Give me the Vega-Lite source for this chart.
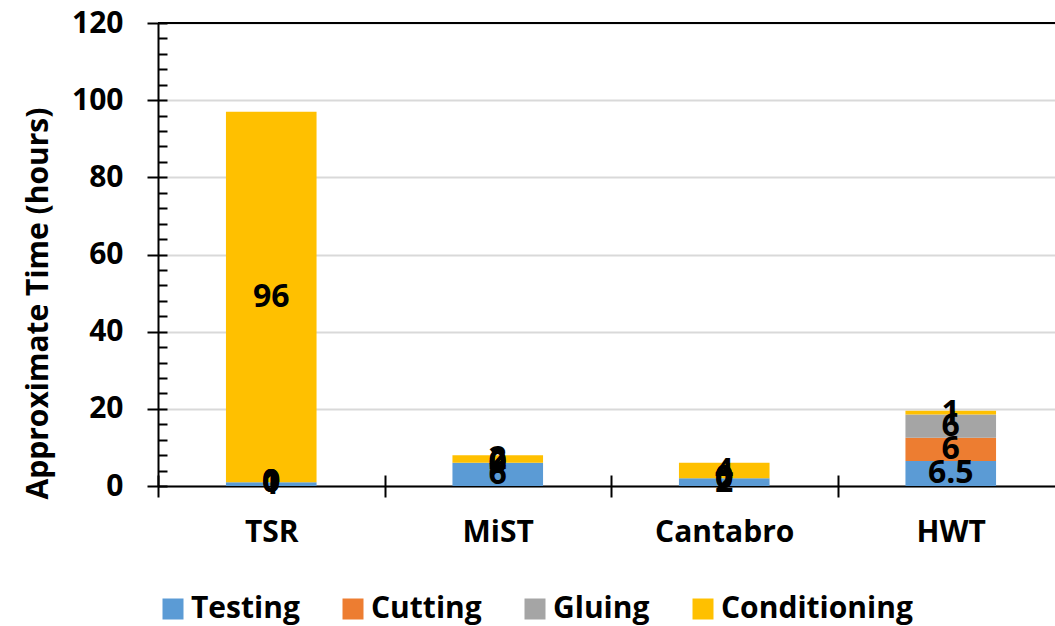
{
  "$schema": "https://vega.github.io/schema/vega-lite/v6.json",
  "width": 906,
  "height": 463,
  "autosize": {"type": "none"},
  "padding": {"left": 158, "top": 23, "right": 0, "bottom": 140},
  "config": {"view": {"stroke": null}, "font": "Open Sans"},
  "data": {
    "values": [
      {"Test": "TSR", "Task": "Testing", "k": 1, "Hours": 1},
      {"Test": "TSR", "Task": "Cutting", "k": 2, "Hours": 0},
      {"Test": "TSR", "Task": "Gluing", "k": 3, "Hours": 0},
      {"Test": "TSR", "Task": "Conditioning", "k": 4, "Hours": 96},
      {"Test": "MiST", "Task": "Testing", "k": 1, "Hours": 6},
      {"Test": "MiST", "Task": "Cutting", "k": 2, "Hours": 0},
      {"Test": "MiST", "Task": "Gluing", "k": 3, "Hours": 0},
      {"Test": "MiST", "Task": "Conditioning", "k": 4, "Hours": 2},
      {"Test": "Cantabro", "Task": "Testing", "k": 1, "Hours": 2},
      {"Test": "Cantabro", "Task": "Cutting", "k": 2, "Hours": 0},
      {"Test": "Cantabro", "Task": "Gluing", "k": 3, "Hours": 0},
      {"Test": "Cantabro", "Task": "Conditioning", "k": 4, "Hours": 4},
      {"Test": "HWT", "Task": "Testing", "k": 1, "Hours": 6.5},
      {"Test": "HWT", "Task": "Cutting", "k": 2, "Hours": 6},
      {"Test": "HWT", "Task": "Gluing", "k": 3, "Hours": 6},
      {"Test": "HWT", "Task": "Conditioning", "k": 4, "Hours": 1}
    ]
  },
  "transform": [
    {"stack": "Hours", "groupby": ["Test"], "sort": [{"field": "k", "order": "ascending"}], "as": ["y0", "y1"]},
    {"calculate": "(datum.y0 + datum.y1) / 2", "as": "ymid"}
  ],
  "resolve": {"axis": {"x": "independent", "y": "independent"}},
  "layer": [
    {
      "mark": {"type": "rule", "color": "black", "strokeWidth": 2},
      "encoding": {
        "y": {"datum": 120, "type": "quantitative", "scale": {"domain": [0, 120]}, "axis": null}
      }
    },
    {
      "mark": {"type": "bar", "width": {"band": 0.4}},
      "encoding": {
        "x": {
          "field": "Test", "type": "nominal", "sort": ["TSR", "MiST", "Cantabro", "HWT"],
          "scale": {"paddingInner": 0, "paddingOuter": 0},
          "axis": {
            "title": null, "labelAngle": 0, "tickBand": "extent", "tickSize": 11, "tickWidth": 2,
            "tickColor": "black", "domainColor": "black", "domainWidth": 2,
            "labelFont": "Open Sans", "labelFontSize": 30, "labelFontWeight": "bold", "labelColor": "black",
            "labelPadding": 20
          }
        },
        "y": {
          "field": "y1", "type": "quantitative", "scale": {"domain": [0, 120]},
          "axis": {
            "title": "Approximate Time (hours)", "values": [0, 20, 40, 60, 80, 100, 120],
            "tickSize": 11, "tickWidth": 2, "tickColor": "black", "domainColor": "black", "domainWidth": 2,
            "grid": true, "gridColor": "#d9d9d9", "gridWidth": 2,
            "labelFont": "Open Sans", "labelFontSize": 30, "labelFontWeight": "bold", "labelColor": "black",
            "labelPadding": 24,
            "titleFont": "Open Sans", "titleFontSize": 30, "titleFontWeight": "bold", "titleColor": "black",
            "titlePadding": 18, "titleY": 280
          }
        },
        "y2": {"field": "y0"},
        "color": {
          "field": "Task", "type": "nominal",
          "scale": {"domain": ["Testing", "Cutting", "Gluing", "Conditioning"], "range": ["#5B9BD5", "#ED7D31", "#A5A5A5", "#FFC000"]},
          "legend": {
            "title": null, "orient": "none", "legendX": 0, "legendY": 571, "direction": "horizontal", "columns": 4,
            "symbolType": "square", "symbolSize": 441, "symbolStrokeWidth": 0,
            "labelFont": "Open Sans", "labelFontSize": 30, "labelFontWeight": "bold", "labelColor": "black",
            "labelOffset": 3, "columnPadding": 38, "labelLimit": 400
          }
        },
        "order": {"field": "k"}
      }
    },
    {
      "mark": {"type": "bar", "opacity": 0, "width": {"band": 0.4}},
      "encoding": {
        "x": {
          "field": "Test", "type": "nominal", "sort": ["TSR", "MiST", "Cantabro", "HWT"],
          "scale": {"paddingInner": 0, "paddingOuter": 0},
          "axis": {"title": null, "labels": false, "domain": false, "tickBand": "extent", "tickSize": -11, "tickWidth": 2, "tickColor": "black", "orient": "bottom"}
        },
        "y": {
          "field": "y1", "type": "quantitative", "scale": {"domain": [0, 120]},
          "axis": {
            "title": null, "orient": "left", "labels": false, "domain": false, "grid": false,
            "values": [0, 4, 8, 12, 16, 20, 24, 28, 32, 36, 40, 44, 48, 52, 56, 60, 64, 68, 72, 76, 80, 84, 88, 92, 96, 100, 104, 108, 112, 116, 120],
            "tickSize": -9, "tickWidth": 2, "tickColor": "black"
          }
        },
        "y2": {"field": "y0"}
      }
    },
    {
      "mark": {"type": "text", "font": "Open Sans", "fontSize": 32, "fontWeight": "bold", "color": "black", "baseline": "middle", "align": "center"},
      "encoding": {
        "x": {"field": "Test", "type": "nominal", "sort": ["TSR", "MiST", "Cantabro", "HWT"], "scale": {"paddingInner": 0, "paddingOuter": 0}, "axis": null},
        "y": {"field": "ymid", "type": "quantitative", "scale": {"domain": [0, 120]}, "axis": null},
        "text": {"field": "Hours", "type": "quantitative"}
      }
    }
  ]
}
